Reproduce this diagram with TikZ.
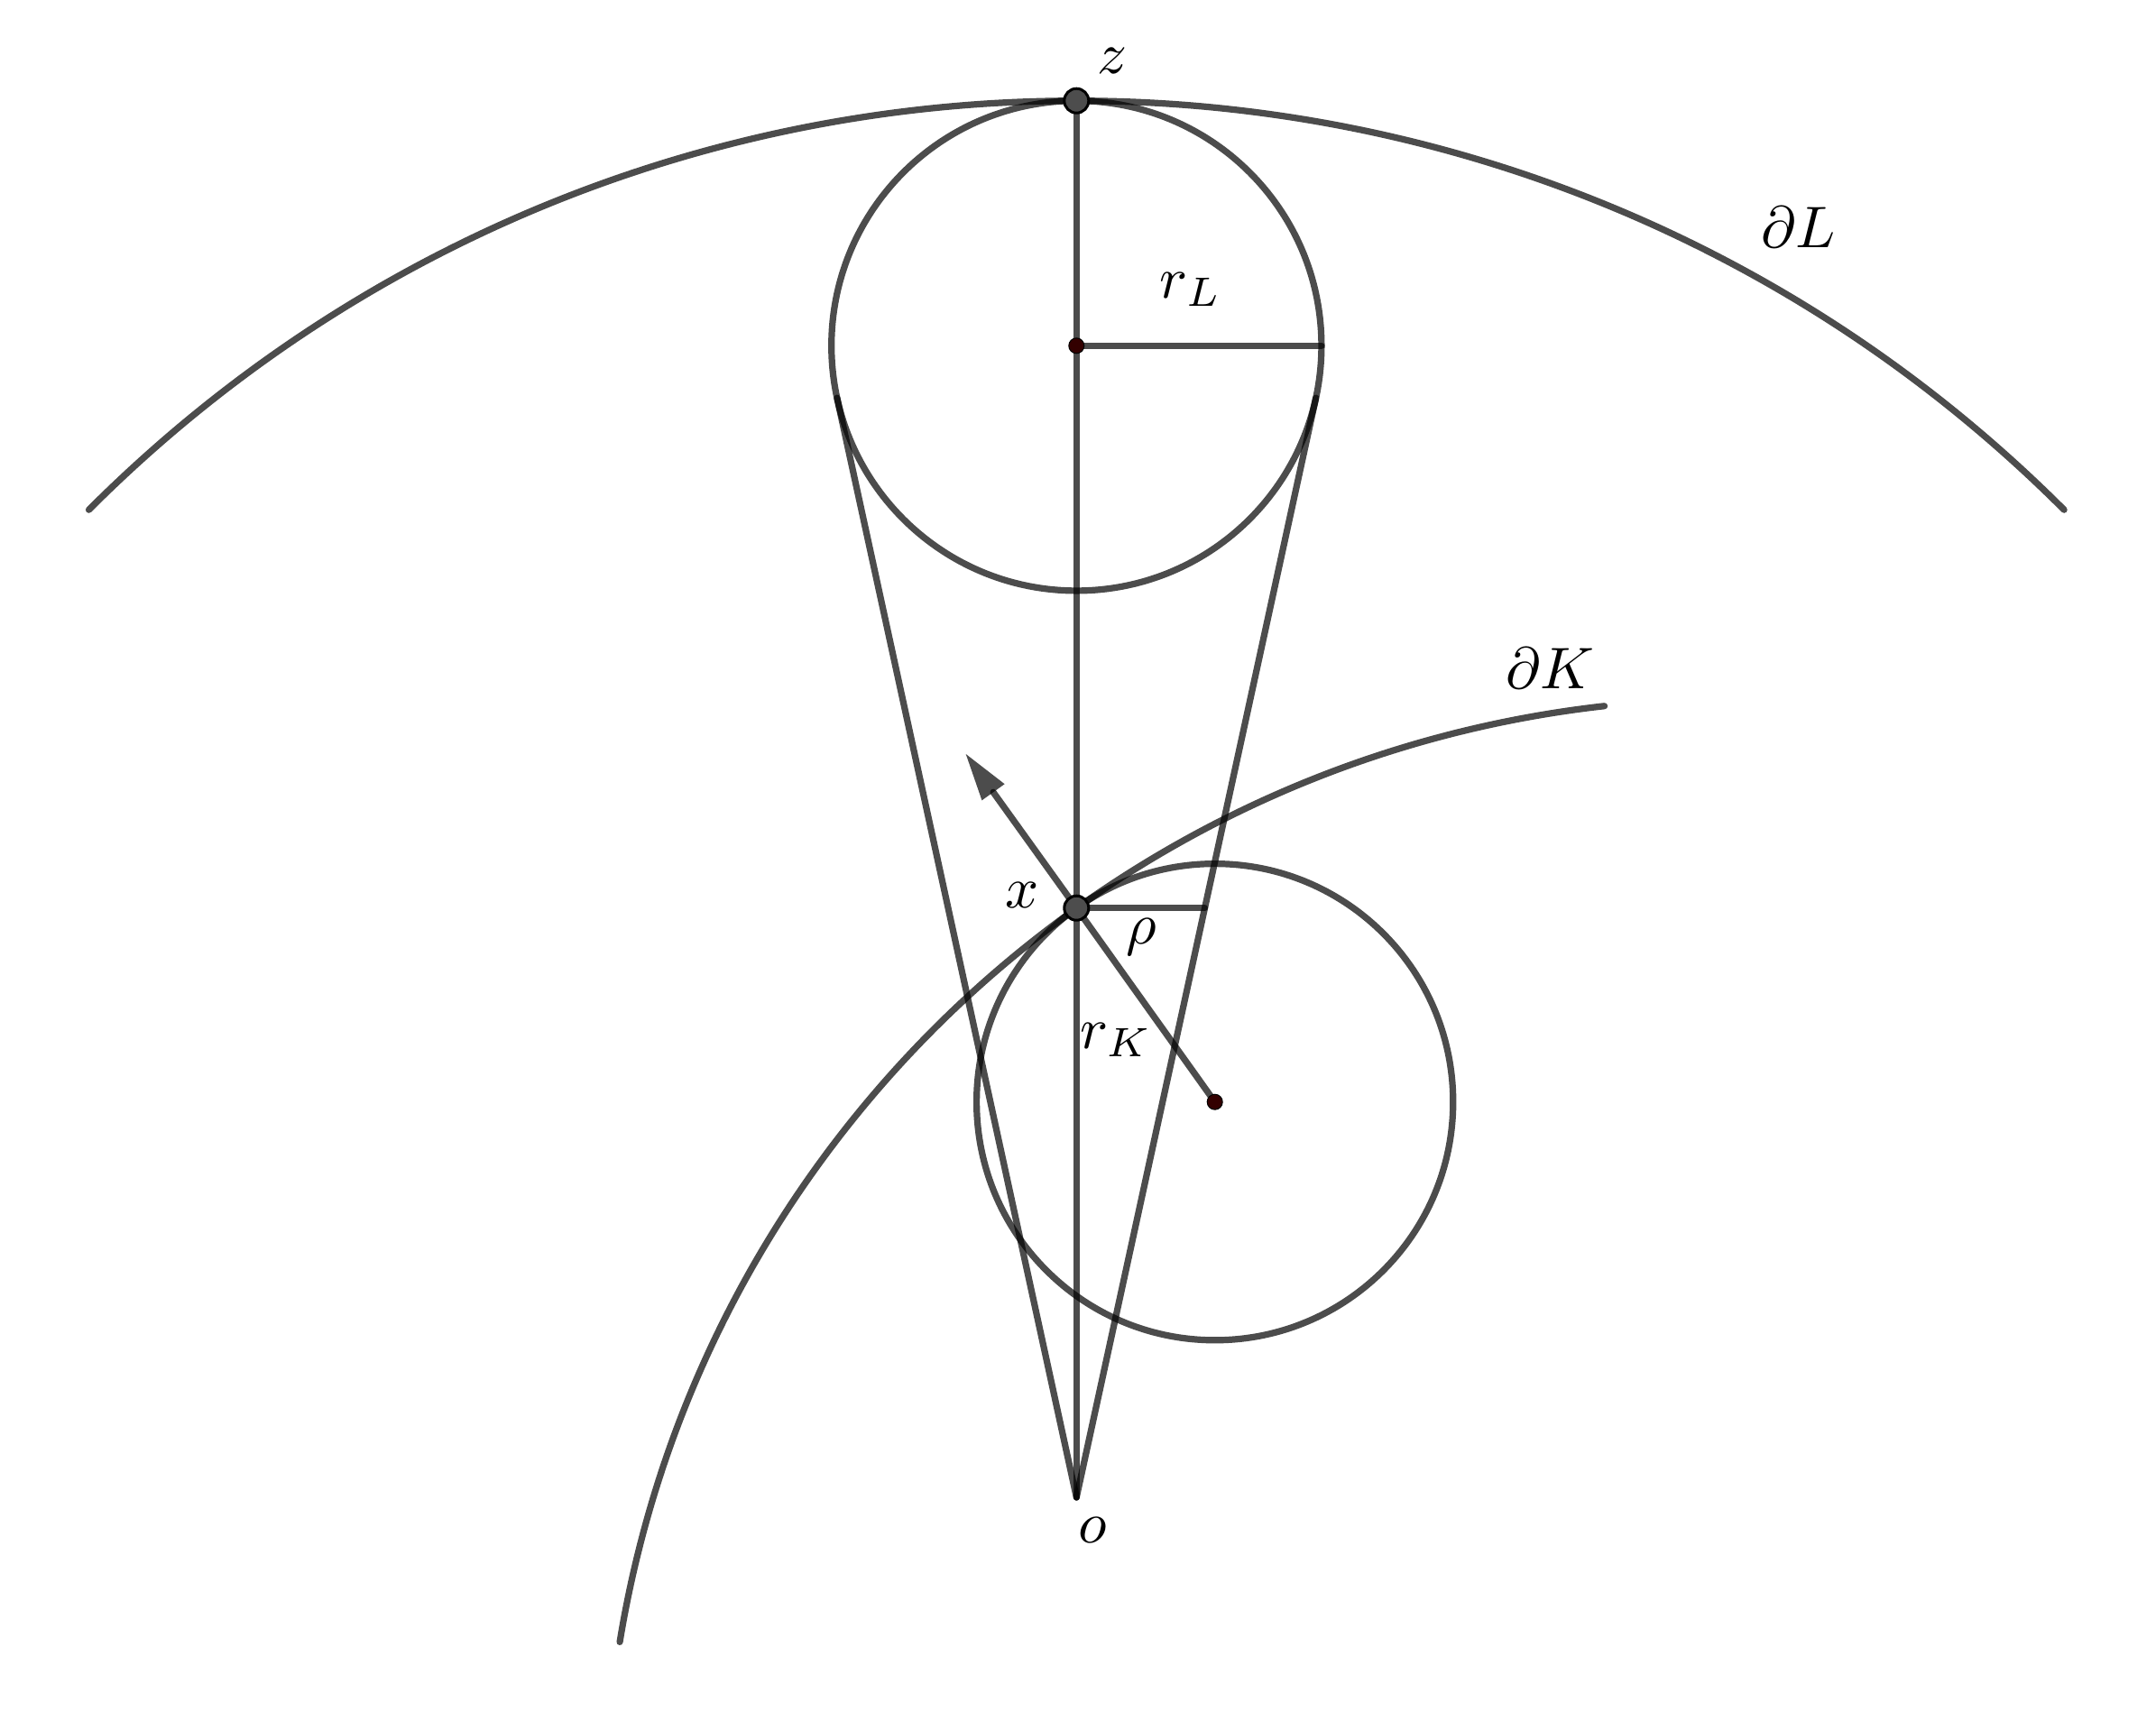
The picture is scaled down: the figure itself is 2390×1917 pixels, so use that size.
\documentclass[tikz,border=0pt]{standalone}
\usetikzlibrary{arrows.meta}
\definecolor{ptgray}{RGB}{77,77,77}
\definecolor{ctrdot}{RGB}{51,0,0}
\newcommand{\lbltext}[1]{\scalebox{1.85}{$#1$}}
\begin{document}
\begin{tikzpicture}[x=0.01cm,y=0.01cm,
  geo/.style={draw=black,opacity=0.7,line width=0.072cm,line cap=round},
  bigpt/.style={circle,fill=ptgray,draw=black,line width=0.03cm,minimum size=0.27cm,inner sep=0pt},
  ctr/.style={circle,fill=ctrdot,draw=black,line width=0.01cm,minimum size=0.17cm,inner sep=0pt},
  lbl/.style={inner sep=0pt}]
\useasboundingbox (0,0) rectangle (2390,-1917);
% key points
\coordinate (o) at (1193.3,-1660);
\coordinate (z) at (1193.3,-111.7);
\coordinate (cL) at (1193.3,-383.3);
\coordinate (x) at (1193.3,-1006.7);
\coordinate (cK) at (1346.7,-1221.7);
\coordinate (rLend) at (1464.9,-383.3);
\coordinate (T1) at (927.9,-441.1);
\coordinate (T2) at (1458.7,-441.1);
\coordinate (rhoend) at (1335.5,-1006.7);
\coordinate (nrm) at (1070.7,-836);
\coordinate (Kc) at (1917.6,-2021.9);
% boundaries
\draw[geo] ([shift={(45:1548.3)}]o) arc[start angle=45,end angle=135,radius=1548.3];
\draw[geo] ([shift={(96.4:1247)}]Kc) arc[start angle=96.4,end angle=170.7,radius=1247];
% circles
\draw[geo] (cL) circle[radius=271.6];
\draw[geo] (cK) circle[radius=264.1];
% segments
\draw[geo] (z) -- (o);
\draw[geo] (cL) -- (rLend);
\draw[geo] (o) -- (T1);
\draw[geo] (o) -- (T2);
\draw[geo] (x) -- (rhoend);
\draw[geo] (x) -- (cK);
\draw[geo,-{Triangle[length=0.52cm,width=0.31cm,line width=0pt]}] (x) -- (nrm);
% points
\node[ctr] (cLp) at (cL) {};
\node[ctr] (cKp) at (cK) {};
\node[bigpt] (zp) at (z) {};
\node[bigpt] (xp) at (x) {};
% labels
\node[lbl] (lz) at (1233,-67) {\lbltext{z}};
\node[lbl] (lrL) at (1320,-321) {\lbltext{r_L}};
\node[lbl] (lx) at (1133,-992) {\lbltext{x}};
\node[lbl] (lrho) at (1265,-1039) {\lbltext{\rho}};
\node[lbl] (lrK) at (1237,-1153) {\lbltext{r_K}};
\node[lbl] (lo) at (1211,-1696) {\lbltext{o}};
\node[lbl] (ldL) at (1994,-251.5) {\lbltext{\partial L}};
\node[lbl] (ldK) at (1718.5,-741) {\lbltext{\partial K}};
\end{tikzpicture}
\end{document}
